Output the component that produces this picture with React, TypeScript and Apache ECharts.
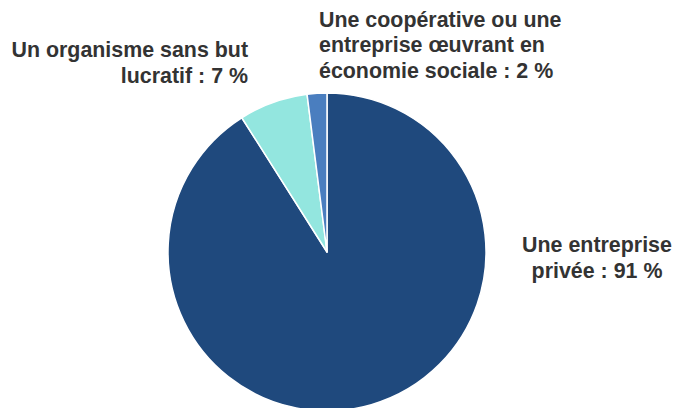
import React, { useEffect, useRef } from "react";
import * as echarts from "echarts";

const categories = [
  "Une entreprise privée",
  "Un organisme sans but lucratif",
  "Une coopérative ou une entreprise œuvrant en économie sociale",
];
const labelTexts = [
  "Une entreprise\nprivée : 91 %",
  "Un organisme sans but\nlucratif : 7 %",
  "Une coopérative ou une\nentreprise œuvrant en\néconomie sociale : 2 %",
];
const values = [91, 7, 2];
const colors = ["#1F497D", "#93E6DF", "#4A7EBF"];

const labelPos = [
  { x: 597, y: 258, align: "center" },
  { x: 248, y: 63, align: "right" },
  { x: 319, y: 45, align: "left" },
];

export default function App() {
  const ref = useRef<HTMLDivElement>(null);
  useEffect(() => {
    document.body.style.margin = "0";
    const chart = echarts.init(ref.current!, null, { renderer: "svg" });
    chart.setOption({
      animation: false,
      backgroundColor: "#ffffff",
      series: [
        {
          type: "pie",
          center: [327, 252],
          radius: 159,
          startAngle: 90,
          clockwise: true,
          avoidLabelOverlap: false,
          itemStyle: { borderColor: "#ffffff", borderWidth: 1.5 },
          label: {
            show: true,
            position: "outside",
            formatter: (p: any) => labelTexts[p.dataIndex],
            fontFamily: "'Liberation Sans', Arial, sans-serif",
            fontWeight: "bold",
            fontSize: 21.4,
            lineHeight: 25.5,
            color: "#333333",
          },
          labelLine: { show: false },
          labelLayout: (p: any) => {
            const pos = labelPos[p.dataIndex];
            return { x: pos.x, y: pos.y, align: pos.align, verticalAlign: "middle" };
          },
          emphasis: { disabled: true },
          data: categories.map((name, i) => ({
            name,
            value: values[i],
            itemStyle: { color: colors[i] },
          })),
        },
      ],
    });
    return () => chart.dispose();
  }, []);
  return <div ref={ref} style={{ width: 674, height: 408 }} />;
}
